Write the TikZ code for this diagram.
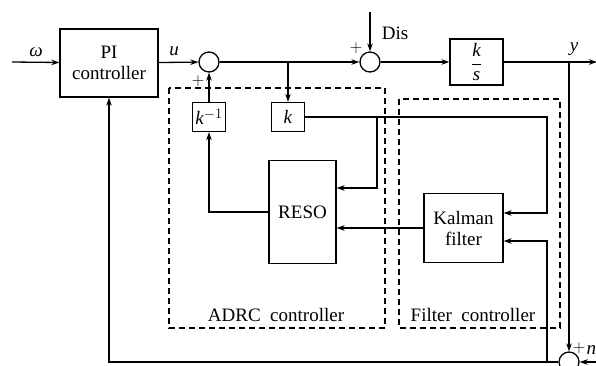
\documentclass[tikz,border=0pt]{standalone}
\usepackage{amsmath}
\usepackage{fontspec}
\setmainfont{Liberation Serif}
\usetikzlibrary{arrows.meta}
\begin{document}
\begin{tikzpicture}[x=1pt, y=-1pt, line width=1.3pt, >={Stealth[length=8pt,width=5.5pt]},
  font=\fontsize{19}{21}\selectfont,
  bloque/.style={draw, minimum width=#1, inner sep=0pt, align=center},
  sumador/.style={draw, circle, minimum size=20pt, inner sep=0pt},
  marco/.style={draw, dash pattern=on 6pt off 4pt, line width=1.1pt},
  signo/.style={inner sep=0pt, font=\fontsize{16}{16}\selectfont}]
\useasboundingbox (0,0) rectangle (596,365);
% bloques
\node[bloque=98pt, minimum height=68pt] (pi) at (109,63) {PI\\controller};
\node[sumador] (s1) at (209,62) {};
\node[sumador] (s2) at (370,62) {};
\node[sumador] (s3) at (569,362) {};
\node[bloque=53pt, minimum height=46pt] (planta) at (476.5,62) {$\dfrac{\textit{k}}{\textit{s}}$};
\node[bloque=33pt, minimum height=29pt] (kinv) at (209,117) {\textit{k}$^{-1}$};
\node[bloque=33pt, minimum height=29pt] (kk) at (288,117) {\textit{k}};
\node[bloque=67pt, minimum height=103pt] (reso) at (302.5,212) {RESO};
\node[bloque=79pt, minimum height=69pt] (kalman) at (463.5,228) {Kalman\\filter};
% marcos
\draw[marco] (169,88) rectangle (385,328);
\draw[marco] (399,99) rectangle (560,328);
\node (adrc) at (276,315) {ADRC\ \ controller};
\node (filtro) at (473,315) {Filter\ \ controller};
% puntos libres
\coordinate (w0) at (12,62);
\coordinate (dis) at (370,12);
\coordinate (sal) at (597,62);
\coordinate (nin) at (600,362);
\coordinate (b2) at (377,117);
\coordinate (b3) at (547,117);
\coordinate (b5) at (547,362);
% etiquetas
\node (lw) at (36,52) {\textit{ω}};
\node (lu) at (174,51) {\textit{u}};
\node[anchor=west] (ldis) at (378,33) {Dis};
\node (ly) at (574,49) {\textit{y}};
\node[anchor=west, inner sep=0pt] (ln) at (586,350) {\textit{n}};
\node[signo] (p1) at (198,81) {$+$};
\node[signo] (p2) at (356,48) {$+$};
\node[signo] (p3) at (579,348) {$+$};
% conexiones
\draw[->] (w0) -- (pi);
\draw[->] (pi) -- (s1);
\draw[->] (s1) -- (s2);
\draw[->] (kk.north |- s1) -- (kk);
\draw[->] (dis) -- (s2);
\draw[->] (s2) -- (planta);
\draw[->] (planta) -- (sal);
\draw[->] (s3 |- planta) -- (s3);
\draw[->] (nin) -- (s3);
\draw[->] (s3) -- (pi.south |- s3) -- (pi);
\draw[->] (b5) |- ([yshift=-13pt]kalman.east);
\draw[->] (kk) -- (b3) |- ([yshift=15pt]kalman.east);
\draw[->] (b2) |- ([yshift=24pt]reso.east);
\draw[->] (kalman) -- (reso.east |- kalman);
\draw[->] (reso) -| (kinv);
\draw[->] (kinv) -- (s1);
\end{tikzpicture}
\end{document}
